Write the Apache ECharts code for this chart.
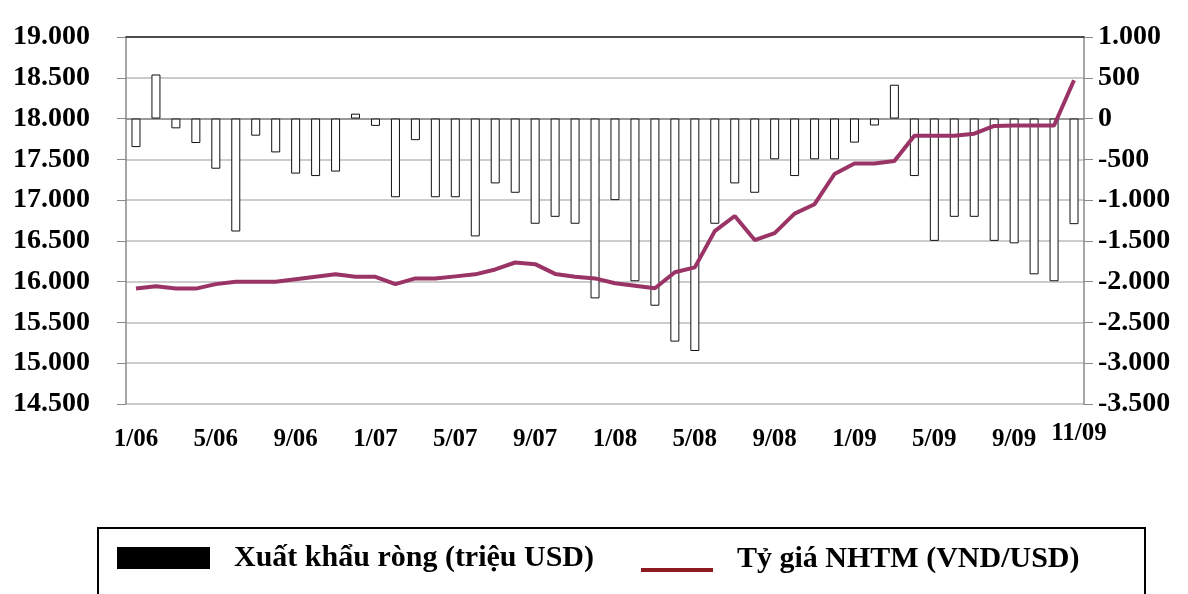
<!DOCTYPE html>
<html>
<head>
<meta charset="utf-8">
<script src="https://cdn.jsdelivr.net/npm/echarts@6/dist/echarts.min.js"></script>
<style>
  html, body { margin: 0; padding: 0; background: #fff; }
  #chart { width: 1188px; height: 594px; }
</style>
</head>
<body>
<div id="chart"></div>
<script>
// thang / nam, 1/06 .. 12/09
var months = [
    '1/06', '2/06', '3/06', '4/06', '5/06', '6/06', '7/06', '8/06', '9/06', '10/06', '11/06', '12/06',
    '1/07', '2/07', '3/07', '4/07', '5/07', '6/07', '7/07', '8/07', '9/07', '10/07', '11/07', '12/07',
    '1/08', '2/08', '3/08', '4/08', '5/08', '6/08', '7/08', '8/08', '9/08', '10/08', '11/08', '12/08',
    '1/09', '2/09', '3/09', '4/09', '5/09', '6/09', '7/09', '8/09', '9/09', '10/09', '11/09', '12/09'
];

// Xuat khau rong (trieu USD) - truc phai
var netExports = [
    -350, 540, -120, -300, -615, -1385, -210, -415, -675, -705, -650, 60,
    -90, -965, -265, -965, -965, -1445, -795, -910, -1290, -1205, -1290, -2205,
    -1000, -1995, -2295, -2735, -2850, -1290, -795, -910, -500, -705, -500, -500,
    -295, -85, 415, -705, -1500, -1205, -1205, -1500, -1530, -1910, -1995, -1295
];

// Ty gia NHTM (VND/USD) - truc trai
var rate = [
    15915, 15945, 15915, 15915, 15970, 16000, 16000, 16000, 16030, 16060, 16090, 16060,
    16060, 15970, 16040, 16040, 16065, 16090, 16150, 16235, 16215, 16095, 16060, 16040,
    15980, 15950, 15920, 16115, 16175, 16620, 16805, 16510, 16595, 16835, 16950, 17320,
    17450, 17450, 17480, 17790, 17790, 17790, 17815, 17910, 17915, 17915, 17915, 18470
];

var endLabel = '11/09';
var barName = 'Xuất khẩu ròng (triệu USD)';
var lineName = 'Tỷ giá NHTM (VND/USD)';

var FONT = '"Liberation Serif", "Times New Roman", serif';

// 18000 -> "18.000"
function fmt(v) {
    var s = Math.abs(v).toString().replace(/\B(?=(\d{3})+(?!\d))/g, '.');
    return (v < 0 ? '-' : '') + s;
}

var chart = echarts.init(document.getElementById('chart'));

chart.setOption({
    animation: false,
    grid: { left: 126, right: 104, top: 37, bottom: 190 },
    legend: [
        {
            left: 117, top: 543, padding: 0,
            itemWidth: 91, itemHeight: 20,
            data: [{ name: barName, icon: 'rect', itemStyle: { color: '#000', borderColor: '#000' } }],
            textStyle: { fontFamily: FONT, fontWeight: 'bold', fontSize: 30, color: '#000', padding: [0, 0, 0, 20] }
        },
        {
            left: 641, top: 544, padding: 0,
            itemWidth: 72, itemHeight: 26,
            data: [{
                name: lineName,
                // line sits low in the item box, as in the original legend
                icon: 'path://M0,0L0.01,0L0.01,0.01Z M0,22L72,22L72,26L0,26Z',
                itemStyle: { color: '#8c1a1e' }
            }],
            textStyle: { fontFamily: FONT, fontWeight: 'bold', fontSize: 30, color: '#000', padding: [0, 0, 0, 19] }
        }
    ],
    xAxis: [
        {
            type: 'category',
            data: months,
            boundaryGap: true,
            axisLine: { lineStyle: { color: '#888', width: 1.5 } },
            axisTick: { interval: 0, length: 7, lineStyle: { color: '#888' } },
            axisLabel: {
                interval: function (i) { return i % 4 === 0; },
                margin: 23,
                fontFamily: FONT, fontWeight: 'bold', fontSize: 25, color: '#000'
            }
        },
        {
            type: 'category',
            data: months,
            position: 'top',
            axisLine: { lineStyle: { color: '#222', width: 1.5 } },
            axisTick: { show: false },
            axisLabel: { show: false }
        }
    ],
    yAxis: [
        {
            type: 'value',
            min: 14500, max: 19000, interval: 500,
            axisLine: { show: true, lineStyle: { color: '#888', width: 1.5 } },
            axisTick: { show: true, length: 9, lineStyle: { color: '#888' } },
            splitLine: { lineStyle: { color: '#cccccc', width: 2 } },
            axisLabel: {
                margin: 36, formatter: fmt,
                fontFamily: FONT, fontWeight: 'bold', fontSize: 28, color: '#000'
            }
        },
        {
            type: 'value',
            min: -3500, max: 1000, interval: 500,
            axisLine: { show: true, lineStyle: { color: '#888', width: 1.5 } },
            axisTick: { show: true, length: 9, lineStyle: { color: '#888' } },
            splitLine: { show: false },
            axisLabel: {
                margin: 14, formatter: fmt,
                fontFamily: FONT, fontWeight: 'bold', fontSize: 28, color: '#000'
            }
        }
    ],
    series: [
        {
            name: barName,
            type: 'bar',
            yAxisIndex: 1,
            data: netExports,
            barWidth: 9,
            itemStyle: { color: '#fff', borderColor: '#111', borderWidth: 1 }
        },
        {
            name: lineName,
            type: 'line',
            yAxisIndex: 0,
            data: rate,
            symbol: 'none',
            lineStyle: { color: '#9b3466', width: 4 },
            itemStyle: { color: '#9b3466' },
            z: 3
        }
    ],
    graphic: [
        {
            type: 'rect',
            shape: { x: 98, y: 528, width: 1047, height: 100 },
            style: { fill: 'none', stroke: '#000', lineWidth: 2 },
            silent: true
        },
        {
            type: 'text',
            x: 1079, y: 434,
            style: {
                text: endLabel,
                align: 'center', verticalAlign: 'middle',
                font: 'bold 25px ' + FONT, fill: '#000'
            }
        }
    ]
});
</script>
</body>
</html>
